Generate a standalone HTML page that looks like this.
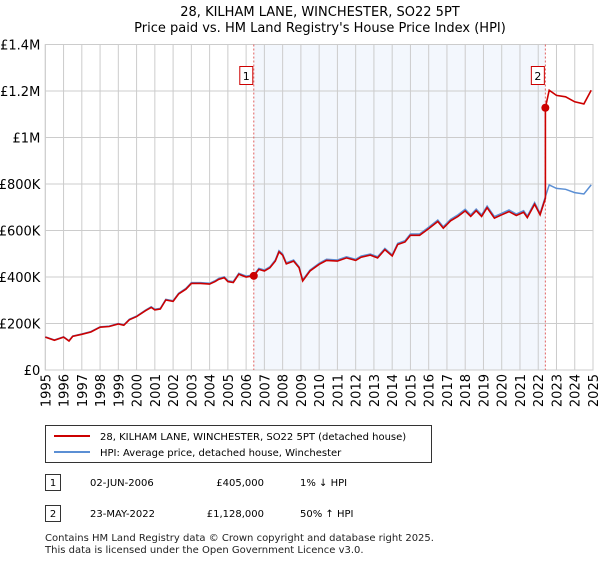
<!DOCTYPE html>
<html><head><meta charset="utf-8"><style>
body{margin:0;background:#fff;font-family:"Liberation Sans","DejaVu Sans",sans-serif;}
svg text{font-family:"DejaVu Sans","Liberation Sans",sans-serif;}
</style></head><body>
<svg id="c" width="600" height="560" xmlns="http://www.w3.org/2000/svg">
<text x="320" y="16" text-anchor="middle" font-size="13">28, KILHAM LANE, WINCHESTER, SO22 5PT</text>
<text x="320" y="32" text-anchor="middle" font-size="13">Price paid vs. HM Land Registry's House Price Index (HPI)</text>
<g id="plot"></g>
<g>
<rect x="45.5" y="425.5" width="386" height="37" fill="#fff" stroke="#333"/>
<line x1="54" y1="436" x2="90" y2="436" stroke="#cc0000" stroke-width="2"/>
<text x="100" y="440" font-size="10">28, KILHAM LANE, WINCHESTER, SO22 5PT (detached house)</text>
<line x1="54" y1="452" x2="90" y2="452" stroke="#5b8fd4" stroke-width="2"/>
<text x="100" y="456" font-size="10">HPI: Average price, detached house, Winchester</text>
</g>
<g font-size="10">
<rect x="45.5" y="474.5" width="15" height="16" fill="#fff" stroke="#333"/>
<text x="53" y="486" text-anchor="middle">1</text>
<text x="90" y="486">02-JUN-2006</text><text x="264" y="486" text-anchor="end">£405,000</text><text x="300" y="486">1% ↓ HPI</text>
<rect x="45.5" y="505.5" width="15" height="16" fill="#fff" stroke="#333"/>
<text x="53" y="517" text-anchor="middle">2</text>
<text x="90" y="517">23-MAY-2022</text><text x="264" y="517" text-anchor="end">£1,128,000</text><text x="300" y="517">50% ↑ HPI</text>
</g>
<text x="45" y="541" font-size="10" fill="#222">Contains HM Land Registry data © Crown copyright and database right 2025.</text>
<text x="45" y="553" font-size="10" fill="#222">This data is licensed under the Open Government Licence v3.0.</text>
</svg>
<script>
const hpiYears=[1995,1995.5,1996,1996.3,1996.5,1997,1997.5,1998,1998.5,1999,1999.3,1999.6,2000,2000.5,2000.8,2001,2001.3,2001.6,2002,2002.3,2002.7,2003,2003.5,2004,2004.3,2004.5,2004.8,2005,2005.3,2005.6,2006,2006.42,2006.7,2007,2007.3,2007.6,2007.8,2008,2008.2,2008.6,2008.9,2009.1,2009.5,2010,2010.4,2011,2011.5,2012,2012.3,2012.8,2013.2,2013.6,2014,2014.3,2014.7,2015,2015.5,2016,2016.5,2016.8,2017.2,2017.6,2018,2018.3,2018.6,2018.9,2019.2,2019.6,2020,2020.4,2020.8,2021.2,2021.4,2021.8,2022.1,2022.39,2022.6,2023,2023.5,2024,2024.5,2024.9];
const hpiValues=[143,129,143,126,146,155,165,186,189,200,194,218,232,258,272,261,265,304,298,330,351,376,376,373,384,394,401,384,380,416,404,409,437,430,444,473,513,499,461,473,444,387,430,459,476,473,487,476,490,499,487,523,495,545,556,585,585,614,645,616,648,667,691,667,692,667,705,660,674,688,671,685,662,720,674,746,796,781,777,763,757,796];
const saleYears=[2006.42,2022.39];
const salePrices=[405,1128];
const saleLabels=["1","2"];
const yTicks=[0,200,400,600,800,1000,1200,1400];
const yTickLabels=["£0","£200K","£400K","£600K","£800K","£1M","£1.2M","£1.4M"];
const xTicks=[1995,1996,1997,1998,1999,2000,2001,2002,2003,2004,2005,2006,2007,2008,2009,2010,2011,2012,2013,2014,2015,2016,2017,2018,2019,2020,2021,2022,2023,2024,2025];

const X0=45.3,X1=593,Y0=370,Y1=44.5;
const xs=y=>X0+(y-1995)/30*(X1-X0);
const ys=v=>Y0-v/1400*(Y0-Y1);
const NS="http://www.w3.org/2000/svg";
const g=document.getElementById('plot');
function mk(t,a){const e=document.createElementNS(NS,t);for(const k in a)e.setAttribute(k,a[k]);g.appendChild(e);return e;}
const shade=mk('rect',{x:xs(saleYears[0]),y:Y1,width:xs(saleYears[1])-xs(saleYears[0]),height:Y0-Y1,fill:'#eef3fc',opacity:0.7});


yTicks.forEach((v,i)=>{
 const l=mk('line',{x1:X0,x2:X1,y1:ys(v),y2:ys(v),stroke:'#ccc'});
 
 
 const t=mk('text',{x:X0-5,y:ys(v)+5,'text-anchor':'end','font-size':13});
 t.textContent=yTickLabels[i];
 
 
});
xTicks.forEach(yr=>{
 const l=mk('line',{x1:xs(yr),x2:xs(yr),y1:Y1,y2:Y0,stroke:'#ccc'});
 
 
 const t=mk('text',{x:0,y:0,'text-anchor':'end','font-size':13,transform:`translate(${xs(yr)+5},${Y0+4}) rotate(-90)`});
 t.textContent=yr;
 
 
});
mk('rect',{x:X0,y:Y1,width:X1-X0,height:Y0-Y1,fill:'none',stroke:'#ccc'});
saleYears.forEach((yr,i)=>{
 const l=mk('line',{x1:xs(yr),x2:xs(yr),y1:Y1,y2:Y0,stroke:'#e06060','stroke-dasharray':'2,2'});
 
 
});
let d='';hpiYears.forEach((yr,i)=>{d+=(i?'L':'M')+xs(yr).toFixed(1)+','+ys(hpiValues[i]).toFixed(1);});
const hp=mk('path',{d:d,fill:'none',stroke:'#5b8fd4','stroke-width':1.5});


function hpiAt(yr){for(let i=1;i<hpiYears.length;i++){if(yr<=hpiYears[i]){const f=(yr-hpiYears[i-1])/(hpiYears[i]-hpiYears[i-1]);return hpiValues[i-1]+f*(hpiValues[i]-hpiValues[i-1]);}}return hpiValues[hpiValues.length-1];}
const f1=salePrices[0]/hpiAt(saleYears[0]),f2=salePrices[1]/hpiAt(saleYears[1]);
d='';hpiYears.forEach((yr,i)=>{const f=yr<saleYears[1]?f1:f2;
 if(yr===saleYears[1])d+='L'+xs(yr).toFixed(1)+','+ys(hpiValues[i]*f1).toFixed(1);
 d+=(i?'L':'M')+xs(yr).toFixed(1)+','+ys(hpiValues[i]*f).toFixed(1);});
const rp=mk('path',{d:d,fill:'none',stroke:'#cc0000','stroke-width':1.6});


saleYears.forEach((yr,i)=>{
 const c=mk('circle',{cx:xs(yr),cy:ys(salePrices[i]),r:4,fill:'#cc0000'});
 
 
 const bx=xs(yr)-14;
 const r=mk('rect',{x:bx,y:66.5,width:13,height:18,fill:'#fff',stroke:'#cc0000'});
 
 
 const t=mk('text',{x:bx+6.5,y:80,'text-anchor':'middle','font-size':11});
 t.textContent=saleLabels[i];
 
 
});
</script>
</body></html>
